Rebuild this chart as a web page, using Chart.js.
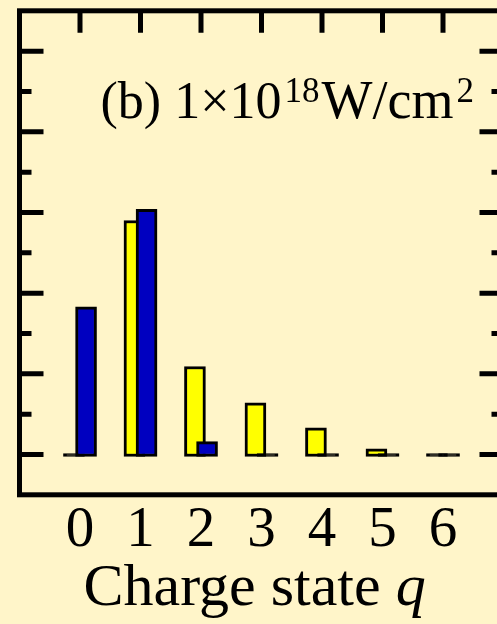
<!DOCTYPE html>
<html>
<head>
<meta charset="utf-8">
<script src="https://cdn.jsdelivr.net/npm/chart.js@4.4.0/dist/chart.umd.min.js"></script>
<style>
  html, body { margin: 0; padding: 0; background: #fff5c9; overflow: hidden; }
  #wrap { width: 520px; height: 624px; }
</style>
</head>
<body>
<div id="wrap"><canvas id="chart"></canvas></div>
<script>
// charge states and the two ion yields (arbitrary units)
const charges = [0, 1, 2, 3, 4, 5, 6];
const tickLabels = ['0', '1', '2', '3', '4', '5', '6'];
const yellowValues = [0, 29.0, 10.9, 6.4, 3.3, 0.7, 0];
const blueValues = [18.3, 30.4, 1.6, 0, 0, 0, 0];
const yMajorTicks = [0, 10, 20, 30, 40, 50];
const yMinorTicks = [5, 15, 25, 35, 45];

const serif = 'Liberation Serif';

// frame, inward ticks and the texts
const frame = {
  id: 'frame',
  afterDraw(c) {
    const ctx = c.ctx, a = c.chartArea, x = c.scales.x, y = c.scales.y;
    ctx.save();
    ctx.strokeStyle = '#000';
    ctx.lineWidth = 5;
    ctx.strokeRect(a.left, a.top, a.right - a.left, a.bottom - a.top);
    ctx.beginPath();
    charges.forEach(v => {
      const px = x.getPixelForValue(v);
      ctx.moveTo(px, a.top);
      ctx.lineTo(px, a.top + 22);
    });
    yMajorTicks.forEach(v => {
      const py = y.getPixelForValue(v);
      ctx.moveTo(a.left, py); ctx.lineTo(a.left + 24, py);
      ctx.moveTo(a.right, py); ctx.lineTo(a.right - 24, py);
    });
    yMinorTicks.forEach(v => {
      const py = y.getPixelForValue(v);
      ctx.moveTo(a.left, py); ctx.lineTo(a.left + 12, py);
      ctx.moveTo(a.right, py); ctx.lineTo(a.right - 12, py);
    });
    ctx.stroke();

    // panel label (b) 1x10^18 W/cm^2
    ctx.fillStyle = '#000';
    ctx.textBaseline = 'alphabetic';
    let tx = a.left + 81, ty = a.top + 107;
    ctx.font = '52px "' + serif + '"';
    ctx.fillText('(b) 1×10', tx, ty);
    tx += ctx.measureText('(b) 1×10').width + 3;
    ctx.font = '35px "' + serif + '"';
    ctx.fillText('18', tx, ty - 16);
    tx += ctx.measureText('18').width + 2;
    ctx.font = '54px "' + serif + '"';
    ctx.fillText('W/cm', tx, ty);
    tx += ctx.measureText('W/cm').width + 3;
    ctx.font = '35px "' + serif + '"';
    ctx.fillText('2', tx, ty - 16);

    // x axis title
    tx = a.left + 64;
    ty = a.bottom + 110;
    ctx.font = '60px "' + serif + '"';
    ctx.fillText('Charge state ', tx, ty);
    tx += ctx.measureText('Charge state ').width;
    ctx.font = 'italic 60px "' + serif + '"';
    ctx.fillText('q', tx, ty);
    ctx.restore();
  }
};

const barStyle = {
  borderColor: '#000',
  borderWidth: 3,
  borderSkipped: false,
  barThickness: 21,
  minBarLength: 3,
  base: -0.25,
  grouped: false
};

// zero-height bars show as a plain black stroke on the baseline
const fillFor = colour => ctx => (ctx.parsed && ctx.parsed.y === 0 ? '#000' : colour);

new Chart(document.getElementById('chart'), {
  type: 'bar',
  data: {
    datasets: [
      {
        label: 'blue',
        data: charges.map((q, i) => ({ x: q, y: blueValues[i] })),
        backgroundColor: fillFor('#0000c0'),
        xAxisID: 'xb',
        ...barStyle
      },
      {
        label: 'yellow',
        data: charges.map((q, i) => ({ x: q, y: yellowValues[i] })),
        backgroundColor: fillFor('#ffff00'),
        xAxisID: 'xa',
        ...barStyle
      }
    ]
  },
  options: {
    responsive: true,
    maintainAspectRatio: false,
    animation: false,
    layout: { padding: { left: 19.5, right: 16.5, top: 10.8, bottom: 56.8 } },
    plugins: { legend: { display: false }, tooltip: { enabled: false } },
    scales: {
      x: {
        type: 'linear', min: -1, max: 7, position: 'bottom', offset: false,
        grid: { display: false, drawTicks: false },
        border: { display: false },
        afterBuildTicks: s => { s.ticks = charges.map(v => ({ value: v })); },
        ticks: {
          padding: 2, maxRotation: 0, autoSkip: false, color: '#000',
          font: { family: serif, size: 57 },
          callback: v => tickLabels[charges.indexOf(v)]
        }
      },
      xa: { type: 'linear', min: -0.9, max: 7.1, display: false, offset: false },
      xb: { type: 'linear', min: -1.1, max: 6.9, display: false, offset: false },
      y: { min: -5, max: 55, display: false }
    }
  },
  plugins: [frame]
});
</script>
</body>
</html>
